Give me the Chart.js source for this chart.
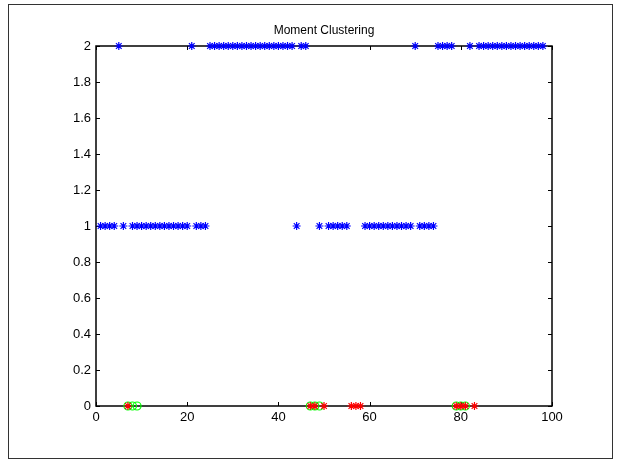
<!DOCTYPE html>
<html>
<head>
<meta charset="utf-8">
<script src="https://cdn.jsdelivr.net/npm/chart.js@4/dist/chart.umd.min.js"></script>
<style>
  html, body { margin: 0; padding: 0; background: #fff; }
  #wrap { position: relative; width: 621px; height: 464px; }
  #frame { position: absolute; left: 8px; top: 4px; width: 603px; height: 453px; border: 1px solid #333; pointer-events: none; }
  canvas { position: absolute; left: 0; top: 0; }
</style>
</head>
<body>
<div id="wrap">
  <canvas id="c" width="621" height="464"></canvas>
  <div id="frame"></div>
</div>
<script>
// ---- data ----
const chartTitle = 'Moment Clustering';
// cluster label assigned to each sample index 1..98
const clusterLabel = [
  1,1,1,1,2,1,0,1,1,1,
  1,1,1,1,1,1,1,1,1,1,
  2,1,1,1,2,2,2,2,2,2,
  2,2,2,2,2,2,2,2,2,2,
  2,2,2,1,2,2,0,0,1,0,
  1,1,1,1,1,0,0,0,1,1,
  1,1,1,1,1,1,1,1,1,2,
  1,1,1,1,2,2,2,2,0,0,
  0,2,0,2,2,2,2,2,2,2,
  2,2,2,2,2,2,2,2
];
// indices marked with green circles at level 0
const circleIndex = [7,8,9,47,48,49,79,80,81];
const circleLevel = [0,0,0,0,0,0,0,0,0];
const xTickValues = [0,20,40,60,80,100];
const xTickLabels = ['0','20','40','60','80','100'];
const yTickValues = [0,0.2,0.4,0.6,0.8,1,1.2,1.4,1.6,1.8,2];
const yTickLabels = ['0','0.2','0.4','0.6','0.8','1','1.2','1.4','1.6','1.8','2'];

const bluePts = [];
const redPts = [];
clusterLabel.forEach((v, i) => {
  const p = { x: i + 1, y: v };
  if (v === 0) redPts.push(p); else bluePts.push(p);
});
const circlePts = circleIndex.map((x, i) => ({ x: x, y: circleLevel[i] }));

Chart.defaults.font.family = '"Liberation Sans", Arial, Helvetica, sans-serif';
Chart.defaults.color = '#000';

const boxTicks = {
  id: 'boxTicks',
  beforeDatasetsDraw(chart) {
    const { ctx, chartArea: a, scales: { x, y } } = chart;
    ctx.save();
    ctx.strokeStyle = '#000';
    ctx.lineWidth = 1.5;
    const L = Math.round(a.left), R = Math.round(a.right);
    const T = Math.round(a.top), B = Math.round(a.bottom);
    ctx.strokeRect(L, T, R - L, B - T);
    ctx.beginPath();
    ctx.lineWidth = 1;
    const tl = 4;
    xTickValues.forEach(v => {
      const px = Math.round(x.getPixelForValue(v)) + 0.5;
      ctx.moveTo(px, B); ctx.lineTo(px, B - tl);
      ctx.moveTo(px, T); ctx.lineTo(px, T + tl);
    });
    yTickValues.forEach(v => {
      const py = Math.round(y.getPixelForValue(v)) + 0.5;
      ctx.moveTo(L, py); ctx.lineTo(L + tl, py);
      ctx.moveTo(R, py); ctx.lineTo(R - tl, py);
    });
    ctx.stroke();
    ctx.restore();
  }
};

new Chart(document.getElementById('c'), {
  type: 'scatter',
  data: {
    datasets: [
      { data: bluePts, pointStyle: 'star', pointRadius: 4, borderWidth: 1.2,
        borderColor: '#0000ff', backgroundColor: '#0000ff', clip: false },
      { data: redPts, pointStyle: 'star', pointRadius: 4, borderWidth: 1.2,
        borderColor: '#ff0000', backgroundColor: '#ff0000', clip: false },
      { data: circlePts, pointStyle: 'circle', pointRadius: 4, borderWidth: 1.2,
        borderColor: '#00ff00', backgroundColor: 'rgba(0,0,0,0)', clip: false }
    ]
  },
  options: {
    responsive: false,
    animation: false,
    devicePixelRatio: 1,
    layout: { padding: { left: 0, right: 69, top: 0, bottom: 0 } },
    plugins: {
      legend: { display: false },
      tooltip: { enabled: false },
      title: {
        display: true, text: chartTitle, color: '#000', fullSize: false,
        font: { size: 12, weight: 'normal' },
        padding: { top: 23.8, bottom: 7.8 }
      }
    },
    scales: {
      x: {
        type: 'linear', min: 0, max: 100,
        grid: { display: false, drawTicks: false },
        border: { display: false },
        afterBuildTicks: s => { s.ticks = xTickValues.map(v => ({ value: v })); },
        afterFit: s => { s.height = 58; },
        ticks: {
          font: { size: 13 }, color: '#000', padding: 4, maxRotation: 0, autoSkip: false,
          callback: (v, i) => xTickLabels[i]
        }
      },
      y: {
        type: 'linear', min: 0, max: 2,
        grid: { display: false, drawTicks: false },
        border: { display: false },
        afterBuildTicks: s => { s.ticks = yTickValues.map(v => ({ value: v })); },
        afterFit: s => { s.width = 96; },
        ticks: {
          font: { size: 13 }, color: '#000', padding: 5, autoSkip: false,
          callback: (v, i) => yTickLabels[i]
        }
      }
    }
  },
  plugins: [boxTicks]
});
</script>
</body>
</html>
